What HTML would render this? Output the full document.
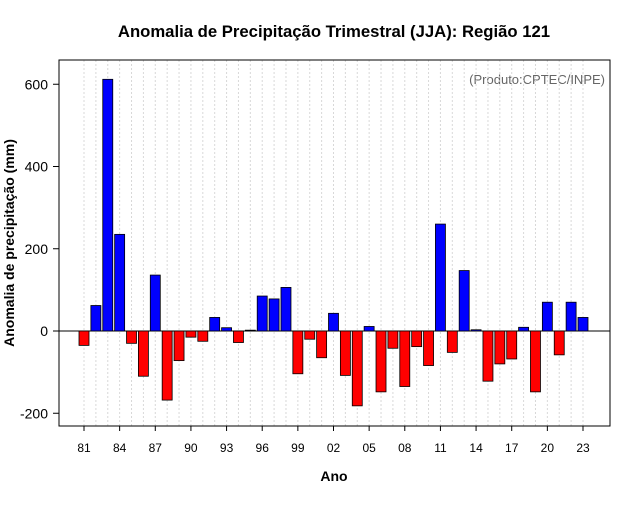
<!DOCTYPE html>
<html><head><meta charset="utf-8"><style>
body{margin:0;background:#fff;}
svg text{font-family:"Liberation Sans",sans-serif;}
</style></head><body>
<svg id="chart" width="640" height="500" viewBox="0 0 640 500">
<text x="334" y="37" text-anchor="middle" font-size="16.7" font-weight="bold">Anomalia de Precipitação Trimestral (JJA): Região 121</text>
<text x="334" y="481" text-anchor="middle" font-size="14" font-weight="bold">Ano</text>
<text transform="translate(14,243) rotate(-90)" text-anchor="middle" font-size="14" font-weight="bold">Anomalia de precipitação (mm)</text>
<text x="605" y="84" text-anchor="end" font-size="13" fill="#666">(Produto:CPTEC/INPE)</text>
<g id="grid"></g><g id="bars"></g><g id="axes"></g>
<rect x="59" y="60" width="551" height="366" fill="none" stroke="#000"/>
</svg>
<script>
const years=[1981,1982,1983,1984,1985,1986,1987,1988,1989,1990,1991,1992,1993,1994,1995,1996,1997,1998,1999,2000,2001,2002,2003,2004,2005,2006,2007,2008,2009,2010,2011,2012,2013,2014,2015,2016,2017,2018,2019,2020,2021,2022,2023];
const values=[-35,62,612,235,-30,-110,136,-168,-72,-15,-25,33,8,-28,2,85,78,106,-104,-20,-65,43,-108,-182,11,-148,-42,-135,-38,-84,260,-52,147,3,-122,-80,-68,9,-148,70,-58,70,33];
const yTicks=[-200,0,200,400,600];
const xTickYears=[1981,1984,1987,1990,1993,1996,1999,2002,2005,2008,2011,2014,2017,2020,2023];
const NS="http://www.w3.org/2000/svg";
const xS=y=>84+(y-1981)*(499/42);
const yS=v=>331-v*0.41125;
function mk(tag,attrs,parent){const e=document.createElementNS(NS,tag);for(const k in attrs)e.setAttribute(k,attrs[k]);document.getElementById(parent).appendChild(e);return e;}
years.forEach(y=>{
  const g=mk('line',{x1:xS(y),x2:xS(y),y1:60,y2:426,stroke:'#d8d8d8','stroke-dasharray':'2,2'},'grid');
  
  
});
const z=mk('line',{x1:59,x2:610,y1:yS(0),y2:yS(0),stroke:'#000'},'grid');


years.forEach((y,i)=>{
  const v=values[i];
  const top=Math.min(yS(v),yS(0)),h=Math.abs(yS(v)-yS(0));
  const b=mk('rect',{x:xS(y)-5,y:top,width:10,height:Math.max(h,0.5),fill:v>=0?'#0000ff':'#ff0000',stroke:'#000','stroke-width':0.8},'bars');
  
  
});
yTicks.forEach(t=>{
  mk('line',{x1:53,x2:59,y1:yS(t),y2:yS(t),stroke:'#000'},'axes');
  const tx=mk('text',{x:48,y:yS(t)+5,'text-anchor':'end','font-size':14},'axes');
  tx.textContent=t;
  
  
});
xTickYears.forEach(y=>{
  mk('line',{x1:xS(y),x2:xS(y),y1:426,y2:431,stroke:'#000'},'axes');
  const tx=mk('text',{x:xS(y),y:452,'text-anchor':'middle','font-size':12},'axes');
  tx.textContent=String(y%100).padStart(2,'0');
  
  
});
</script>
</body></html>
